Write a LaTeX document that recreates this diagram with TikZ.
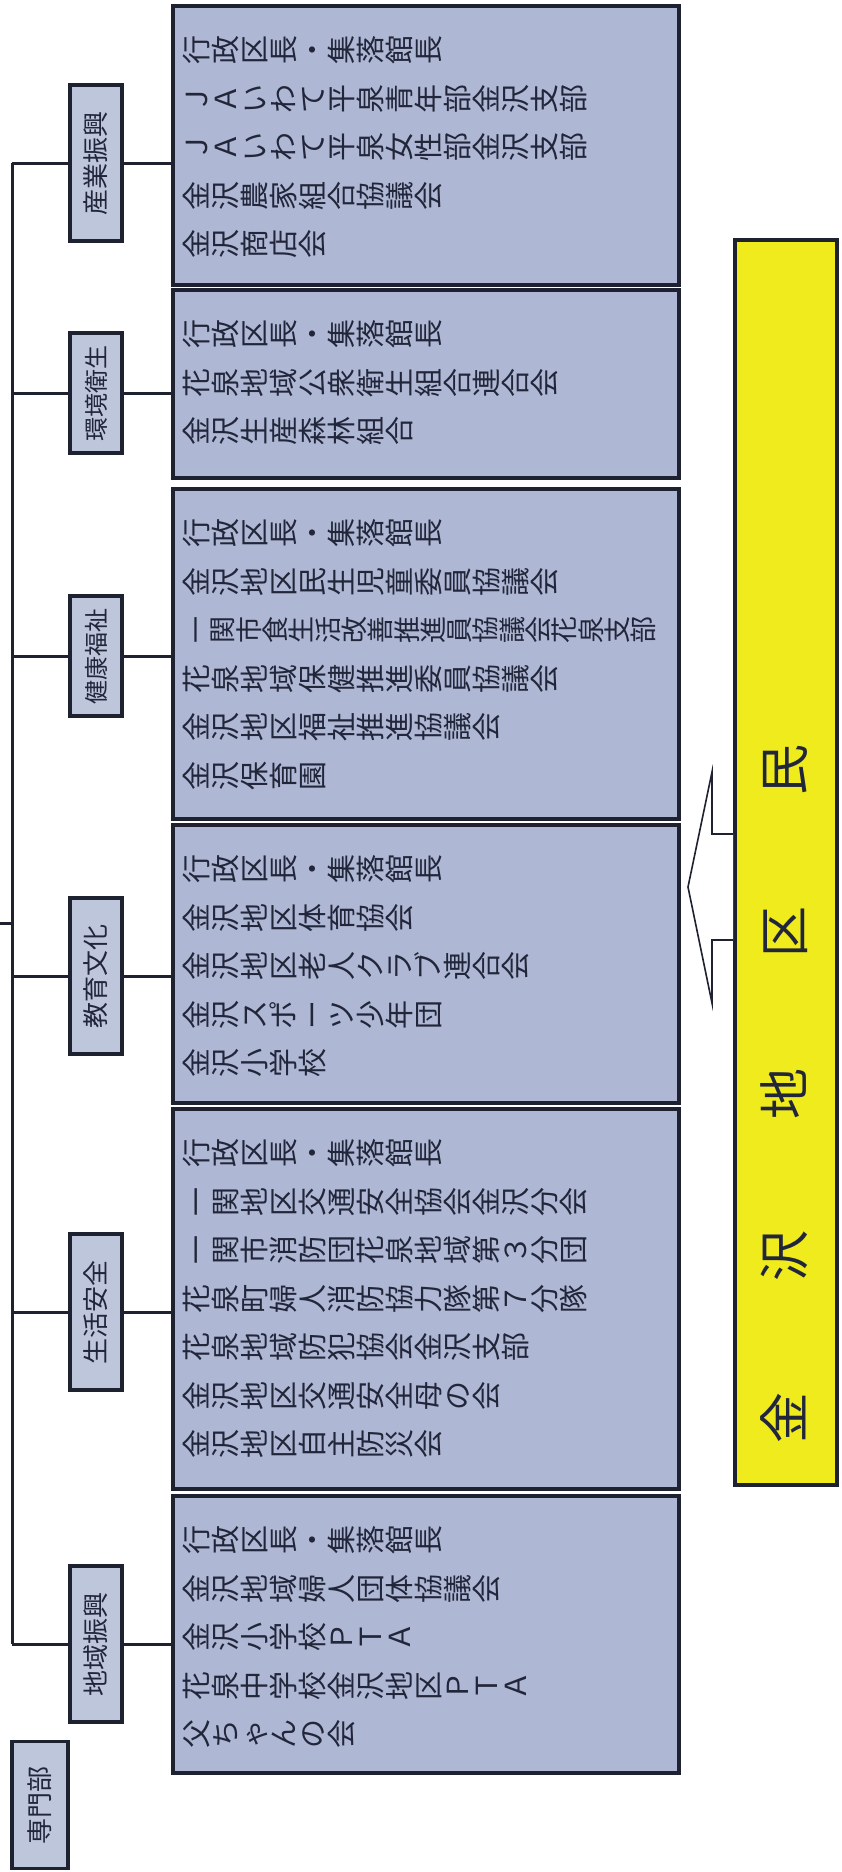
\documentclass[tikz,border=0pt]{standalone}
\usepackage{fontspec}
\usepackage{graphicx}
\setmainfont{Noto Sans CJK JP}
\definecolor{boxfill}{RGB}{174,183,211}
\definecolor{labfill}{RGB}{190,198,220}
\definecolor{edge}{RGB}{30,34,48}
\definecolor{yel}{RGB}{240,235,28}
\definecolor{txt}{RGB}{34,38,58}

\ExplSyntaxOn
\dim_new:N \l_vt_pitch_dim
\NewDocumentCommand\vtext{O{29pt}m}{
  \dim_set:Nn \l_vt_pitch_dim {#1}
  \tl_map_inline:nn {#2} {\makebox[\l_vt_pitch_dim]{\rotatebox{90}{\raisebox{0pt}[0.88em][0.12em]{\makebox[1em]{##1}}}}}
}
\ExplSyntaxOff

\begin{document}
\begin{tikzpicture}[x=1pt,y=-1pt,
  bigbox/.style={draw=edge, line width=3.8pt, fill=boxfill, anchor=north west, inner sep=0pt, minimum width=506pt},
  labbox/.style={draw=edge, line width=3.8pt, fill=labfill, rotate=90, minimum width=156pt, minimum height=52pt, inner sep=0pt, text=txt, font=\fontsize{26}{26}\selectfont},
  shortlab/.style={minimum width=120pt, font=\fontsize{24}{24}\selectfont},
  conn/.style={draw=edge, line width=3pt},
  item/.style={anchor=west, inner sep=0pt, text=txt, font=\fontsize{29}{29}\selectfont},
]
\useasboundingbox (0,0) rectangle (842,1872);
\fill[white] (0,0) rectangle (842,1872);

% big boxes
\node[bigbox, minimum height=279pt] (box1) at (171,4) {};
\node[bigbox, minimum height=188pt] (box2) at (171,288) {};
\node[bigbox, minimum height=330pt] (box3) at (171,487) {};
\node[bigbox, minimum height=278pt] (box4) at (171,823) {};
\node[bigbox, minimum height=380pt] (box5) at (171,1107) {};
\node[bigbox, minimum height=277pt] (box6) at (171,1494) {};

% labels
\node[labbox] (lab1) at (96,163) {産業振興};
\node[labbox, shortlab] (lab2) at (96,393) {環境衛生};
\node[labbox, shortlab] (lab3) at (96,656) {健康福祉};
\node[labbox] (lab4) at (96,976) {教育文化};
\node[labbox] (lab5) at (96,1312) {生活安全};
\node[labbox] (lab6) at (96,1644) {地域振興};
\node[labbox, minimum width=127pt, minimum height=56pt] (senmon) at (40,1805) {専門部};

% trunk
\coordinate (trunktop) at (12,163);
\coordinate (trunkbot) at (12,1644);
\coordinate (parent) at (0,923);
\draw[conn] (trunktop) -- (trunkbot);
\draw[conn] (parent) -- (parent -| trunktop);
\foreach \i in {1,...,6}{
  \draw[conn] (lab\i.north -| trunktop) -- (lab\i.north);
  \draw[conn] (lab\i.south) -- (lab\i.south -| box\i.west);
}

% box 1
\node[item] (b1a) at (182,50) {\vtext{行政区長・集落館長}};
\node[item] (b1b) at (182,98.5) {\vtext{ＪＡいわて平泉青年部金沢支部}};
\node[item] (b1c) at (182,147) {\vtext{ＪＡいわて平泉女性部金沢支部}};
\node[item] (b1d) at (182,195.5) {\vtext{金沢農家組合協議会}};
\node[item] (b1e) at (182,244) {\vtext{金沢商店会}};
% box 2
\node[item] (b2a) at (182,334) {\vtext{行政区長・集落館長}};
\node[item] (b2b) at (182,382.5) {\vtext{花泉地域公衆衛生組合連合会}};
\node[item] (b2c) at (182,431) {\vtext{金沢生産森林組合}};
% box 3
\node[item] (b3a) at (182,533) {\vtext{行政区長・集落館長}};
\node[item] (b3b) at (182,581.5) {\vtext{金沢地区民生児童委員協議会}};
\node[item, font=\fontsize{27}{27}\selectfont] (b3c) at (183,630) {\vtext[26.3pt]{一関市食生活改善推進員協議会花泉支部}};
\node[item] (b3d) at (182,678.5) {\vtext{花泉地域保健推進委員協議会}};
\node[item] (b3e) at (182,727) {\vtext{金沢地区福祉推進協議会}};
\node[item] (b3f) at (182,775.5) {\vtext{金沢保育園}};
% box 4
\node[item] (b4a) at (182,869) {\vtext{行政区長・集落館長}};
\node[item] (b4b) at (182,917.5) {\vtext{金沢地区体育協会}};
\node[item] (b4c) at (182,966) {\vtext{金沢地区老人クラブ連合会}};
\node[item] (b4d) at (182,1014.5) {\vtext{金沢スポーツ少年団}};
\node[item] (b4e) at (182,1063) {\vtext{金沢小学校}};
% box 5
\node[item] (b5a) at (182,1153) {\vtext{行政区長・集落館長}};
\node[item] (b5b) at (182,1201.5) {\vtext{一関地区交通安全協会金沢分会}};
\node[item] (b5c) at (182,1250) {\vtext{一関市消防団花泉地域第３分団}};
\node[item] (b5d) at (182,1298.5) {\vtext{花泉町婦人消防協力隊第７分隊}};
\node[item] (b5e) at (182,1347) {\vtext{花泉地域防犯協会金沢支部}};
\node[item] (b5f) at (182,1395.5) {\vtext{金沢地区交通安全母の会}};
\node[item] (b5g) at (182,1444) {\vtext{金沢地区自主防災会}};
% box 6
\node[item] (b6a) at (182,1540) {\vtext{行政区長・集落館長}};
\node[item] (b6b) at (182,1588.5) {\vtext{金沢地域婦人団体協議会}};
\node[item] (b6c) at (182,1637) {\vtext{金沢小学校ＰＴＡ}};
\node[item] (b6d) at (182,1685.5) {\vtext{花泉中学校金沢地区ＰＴＡ}};
\node[item] (b6e) at (182,1734) {\vtext{父ちゃんの会}};

% yellow box
\node[draw=edge, line width=4pt, fill=yel, anchor=north west, minimum width=102pt, minimum height=1245pt, inner sep=0pt] (yb) at (733,238) {};
\node[rotate=90, text=txt, inner sep=0pt, font=\fontsize{51}{51}\selectfont] (ytext) at (784,1094) {金\hspace{111pt}沢\hspace{111pt}地\hspace{111pt}区\hspace{111pt}民};

% arrow
\draw[edge, line width=1.6pt, fill=white, line join=miter]
  (yb.west |- 0,834) -- (712,834) -- (712,772) -- (688,887) -- (712,1003) -- (712,940) -- (yb.west |- 0,940);
\end{tikzpicture}
\end{document}
